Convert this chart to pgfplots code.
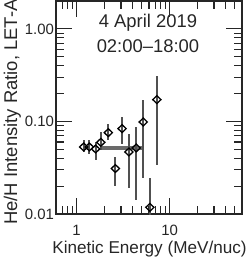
\documentclass[border=0pt]{standalone}
\usepackage{fontspec}
\setmainfont{Liberation Sans}
\usepackage{pgfplots}
\pgfplotsset{compat=1.18}
\definecolor{barc}{HTML}{505050}
\definecolor{linec}{HTML}{6A6A6A}
\definecolor{ink}{HTML}{262626}
\newcommand{\tl}[1]{\mbox{\fontsize{15}{17}\selectfont #1}}
\begin{document}
\begin{tikzpicture}[x=1bp,y=1bp]
\useasboundingbox (0,0) rectangle (246,257);
\begin{axis}[
 at={(56bp,43bp)}, anchor=south west,
 scale only axis, width=186bp, height=213bp,
 xmode=log, ymode=log,
 xmin=0.6, xmax=60, ymin=0.01, ymax=2,
 axis line style={line width=1.2bp, ink},
 every tick/.style={line width=1.1bp, ink},
 tick align=inside,
 major tick length=16bp, minor tick length=8bp,
 xtick={1,10}, xticklabels={\tl{1},\tl{10}},
 ytick={0.01,0.1,1}, yticklabels={\tl{0.01},\tl{0.10},\tl{1.00}},
 minor xtick={0.7,0.8,0.9,2,3,4,5,6,7,8,9,20,30,40,50},
 minor ytick={0.02,0.03,0.04,0.05,0.06,0.07,0.08,0.09,0.2,0.3,0.4,0.5,0.6,0.7,0.8,0.9},
 tick label style={text=ink},
 xticklabel style={yshift=-8bp},
 yticklabel style={xshift=1.5bp},
 clip=true,
]
\addplot[line width=3.3bp, linec] coordinates {(1.82,0.0517) (5.20,0.0517)};
\addplot[only marks, mark=diamond, mark size=3.9bp,
  mark options={xscale=1.4, line width=1.3bp, draw=black, fill=none, solid},
  error bars/.cd, y dir=both, y explicit, error mark=none,
  error bar style={line width=2.2bp, barc}]
 coordinates {
 (1.19,0.0530) += (0,0.0096) -= (0,0.0062)
 (1.37,0.0530) += (0,0.0107) -= (0,0.0080)
 (1.60,0.0504) += (0,0.0096) -= (0,0.0123)
 (1.82,0.0595) += (0,0.0174) -= (0,0.0107)
 (2.19,0.0757) += (0,0.0174) -= (0,0.0120)
 (2.61,0.0310) += (0,0.0108) -= (0,0.0110)
 (3.08,0.0836) += (0,0.0279) -= (0,0.0271)
 (3.65,0.0468) += (0,0.0271) -= (0,0.0279)
 (4.37,0.0517) += (0,0.0354) -= (0,0.0376)
 (5.20,0.0986) += (0,0.0734) -= (0,0.0744)
 (6.13,0.0118) += (0,0.0124) -= (0,0.0038)
 (7.29,0.1720) += (0,0.1340) -= (0,0.1384)
 };
\end{axis}
\node[font=\fontsize{18.5}{20}\selectfont, text=ink, anchor=base] at (148,230) {4 April 2019};
\node[font=\fontsize{18.5}{20}\selectfont, text=ink, anchor=base] at (148,205) {02:00–18:00};
\node[font=\fontsize{17.2}{19}\selectfont, text=ink, anchor=base] at (149.5,4) {Kinetic Energy (MeV/nuc)};
\node[font=\fontsize{18.5}{20}\selectfont, text=ink, anchor=base, rotate=90] at (17,145) {He/H Intensity Ratio, LET-A};
\end{tikzpicture}
\end{document}
